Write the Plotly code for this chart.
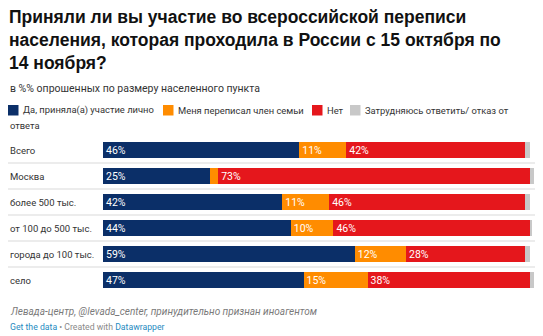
import plotly.graph_objects as go

# Survey data: share of respondents by settlement size, %
categories = ["Всего", "Москва", "более 500 тыс.", "от 100 до 500 тыс.",
              "города до 100 тыс.", "село"]
personally = [46, 25, 42, 44, 59, 47]
family_member = [11, 2, 11, 10, 12, 15]
no = [42, 73, 46, 46, 28, 38]
hard_to_say = [1, 1, 1, 0.5, 1, 1]

series_names = ["Да, приняла(а) участие лично", "Меня переписал член семьи",
                "Нет", "Затрудняюсь ответить/ отказ от ответа"]
series_colors = ["#0b2f68", "#ff8c00", "#e5171c", "#c8c8c8"]

W, H = 543, 336
L, R, T, B = 103, 9, 137, 43
PW, PH = W - L - R, H - T - B


def px(x):
    return (x - L) / PW


def py(y):
    return (H - B - y) / PH


BODY = "Roboto, Arial, sans-serif"

fig = go.Figure()
for name, vals, col, labelled in zip(series_names,
                                     [personally, family_member, no, hard_to_say],
                                     series_colors, [True, True, True, False]):
    text = [f"{v}%" if labelled and v >= 5 else "" for v in vals]
    fig.add_trace(go.Bar(
        y=categories, x=vals, name=name, orientation="h",
        marker=dict(color=col, line=dict(width=0)),
        text=text, textposition="inside", insidetextanchor="start",
        textfont=dict(family=BODY, size=10.5, color="white"),
        constraintext="none", hoverinfo="skip", showlegend=False,
    ))

fig.update_layout(
    width=W, height=H, barmode="stack", bargap=0.36,
    margin=dict(l=L, r=R, t=T, b=B),
    paper_bgcolor="white", plot_bgcolor="white",
    xaxis=dict(range=[0, 101], visible=False, fixedrange=True),
    yaxis=dict(range=[5.5, -0.5], visible=False, categoryorder="array",
               categoryarray=categories, fixedrange=True),
)

annotations = []
shapes = []

# title
annotations.append(dict(
    text="<b>Приняли ли вы участие во всероссийской переписи<br>"
         "населения, которая проходила в России с 15 октября по<br>"
         "14 ноября?</b>",
    x=px(7), y=py(5), xref="paper", yref="paper", xanchor="left",
    yanchor="top", align="left", showarrow=False,
    font=dict(family="Liberation Sans, Arial, sans-serif", size=17.5,
              color="#111111")))

# subtitle
annotations.append(dict(text="в %% опрошенных по размеру населенного пункта",
                        x=px(8), y=py(88), xref="paper", yref="paper",
                        xanchor="left", yanchor="middle", showarrow=False,
                        font=dict(family=BODY, size=10.5, color="#333333")))

# legend
legend_items = [(8, 21, series_names[0]), (163, 176, series_names[1]),
                (312, 325, series_names[2]),
                (350, 363, "Затрудняюсь ответить/ отказ от")]
for (sx, tx, label), col in zip(legend_items, series_colors):
    shapes.append(dict(type="rect", xref="paper", yref="paper",
                       x0=px(sx), x1=px(sx + 10.5), y0=py(105), y1=py(115.5),
                       fillcolor=col, line=dict(width=0)))
    annotations.append(dict(text=label, x=px(tx), y=py(110.5), xref="paper",
                            yref="paper", xanchor="left", yanchor="middle",
                            showarrow=False,
                            font=dict(family=BODY, size=9.4, color="#333333")))
annotations.append(dict(text="ответа", x=px(8), y=py(125), xref="paper",
                        yref="paper", xanchor="left", yanchor="middle",
                        showarrow=False,
                        font=dict(family=BODY, size=9.4, color="#333333")))

# row labels and separators
for i, cat in enumerate(categories):
    annotations.append(dict(text=cat, x=px(8), y=cat, xref="paper", yref="y",
                            xanchor="left", yanchor="middle", showarrow=False,
                            font=dict(family=BODY, size=9.5, color="#333333")))
    if i < len(categories) - 1:
        shapes.append(dict(type="line", xref="paper", yref="y",
                           x0=px(8), x1=px(535), y0=i + 0.5, y1=i + 0.5,
                           line=dict(color="#e6e6e6", width=1.5)))

# footer
annotations.append(dict(
    text="<i>Левада-центр, @levada_center, принудительно признан иноагентом</i>",
    x=px(8), y=py(311.5), xref="paper", yref="paper", xanchor="left",
    yanchor="middle", showarrow=False,
    font=dict(family=BODY, size=10, color="#7a7a7a")))
annotations.append(dict(
    text="<span style='color:#1f8bbf'>Get the data</span> • Created with "
         "<span style='color:#1f8bbf'>Datawrapper</span>",
    x=px(8), y=py(327), xref="paper", yref="paper", xanchor="left",
    yanchor="middle", showarrow=False,
    font=dict(family=BODY, size=8.7, color="#8a8a8a")))

fig.update_layout(annotations=annotations, shapes=shapes)
fig.write_html("out.html")
